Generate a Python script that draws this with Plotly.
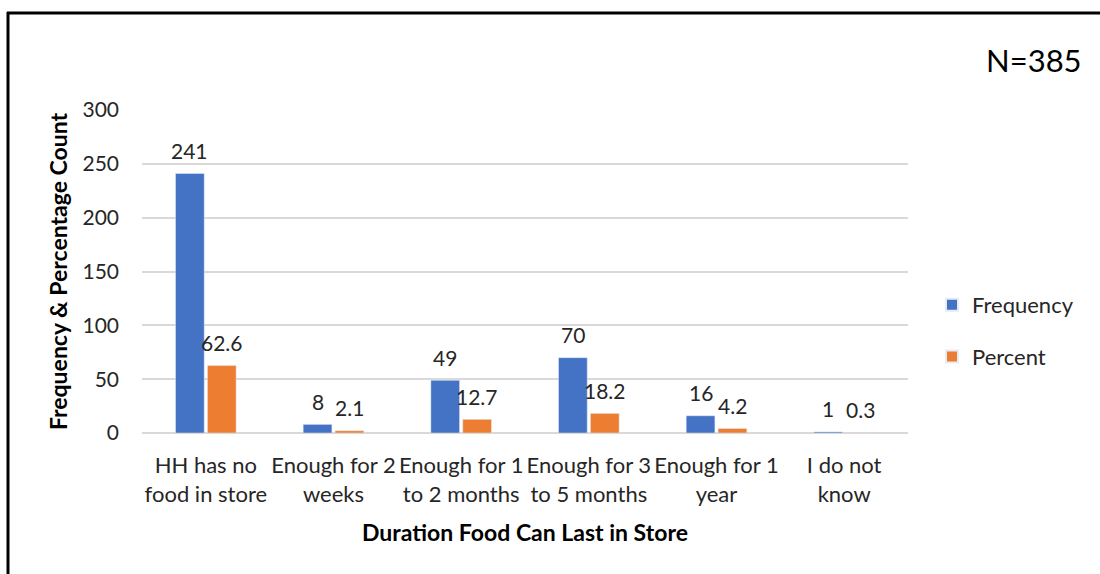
import plotly.graph_objects as go

categories = ["HH has no<br>food in store", "Enough for 2<br>weeks", "Enough for 1<br>to 2 months",
              "Enough for 3<br>to 5 months", "Enough for 1<br>year", "I do not<br>know"]
frequency = [241, 8, 49, 70, 16, 1]
percent = [62.6, 2.1, 12.7, 18.2, 4.2, 0.3]
freq_labels = ["241", "8", "49", "70", "16", "1"]
pct_labels = ["62.6", "2.1", "12.7", "18.2", "4.2", "0.3"]

FONT = "Lato, 'Open Sans', sans-serif"
TXT = "#262626"

L, R, T, B = 142, 908, 110, 433
W, H = 1100, 574
pw, ph = R - L, B - T
slot = pw / len(categories)
bargap, bargroupgap = 0.5, 0.1
bar_offset = slot * (1 - bargap) / 4  # centre of each bar relative to category centre

def px(x):
    return (x - L) / pw

def py(y):
    return (B - y) / ph

fig = go.Figure()
fig.add_trace(go.Bar(name="Frequency", x=categories, y=frequency, marker_color="#4472C4",
                     legendgroup="f"))
fig.add_trace(go.Bar(name="Percent", x=categories, y=percent, marker_color="#ED7D31",
                     legendgroup="p"))

annotations = []
for c, v, t in zip(categories, frequency, freq_labels):
    annotations.append(dict(x=c, y=v, xref="x", yref="y", text=t, showarrow=False,
                            xshift=-bar_offset, yshift=23, yanchor="middle", xanchor="center",
                            font=dict(size=21, color=TXT, family=FONT)))
for c, v, t in zip(categories, percent, pct_labels):
    annotations.append(dict(x=c, y=v, xref="x", yref="y", text=t, showarrow=False,
                            xshift=bar_offset, yshift=23, yanchor="middle", xanchor="center",
                            font=dict(size=21, color=TXT, family=FONT)))
annotations.append(dict(text="N=385", x=px(1034), y=py(60), xref="paper", yref="paper",
                        showarrow=False, font=dict(size=31, color="#000000", family=FONT),
                        xanchor="center", yanchor="middle"))

fig.update_layout(
    width=W, height=H,
    margin=dict(l=L, r=W - R, t=T, b=H - B, pad=0, autoexpand=False),
    paper_bgcolor="white", plot_bgcolor="white",
    barmode="group", bargap=bargap, bargroupgap=bargroupgap,
    font=dict(family=FONT, size=21, color=TXT),
    showlegend=True,
    legend=dict(x=px(932), y=py(331), xanchor="left", yanchor="middle",
                font=dict(size=22, color=TXT, family=FONT),
                itemsizing="constant", tracegroupgap=20, traceorder="grouped",
                bgcolor="rgba(0,0,0,0)"),
    xaxis=dict(showgrid=False, showline=False, ticks="", ticklabelstandoff=17,
               tickangle=0, automargin=False,
               tickfont=dict(size=22, color=TXT),
               title=dict(text="<b>Duration Food Can Last in Store</b>", font=dict(size=23, color="#000000"),
                          standoff=19)),
    yaxis=dict(range=[0, 300], dtick=50, showgrid=True, gridcolor="#d9d9d9", gridwidth=1.5,
               zeroline=True, zerolinecolor="#d9d9d9", zerolinewidth=1.5, showline=False,
               automargin=False,
               ticks="", ticklabelstandoff=22, tickfont=dict(size=21, color=TXT),
               title=dict(text="<b>Frequency & Percentage Count</b>", font=dict(size=23, color="#000000"),
                          standoff=8)),
    annotations=annotations,
    shapes=[
        dict(type="line", xref="paper", yref="paper", x0=px(8), x1=px(8), y0=py(12), y1=py(600),
             line=dict(color="black", width=3)),
        dict(type="line", xref="paper", yref="paper", x0=px(7), x1=px(1120), y0=py(13), y1=py(13),
             line=dict(color="black", width=3)),
    ],
)

fig.write_html("out.html")
